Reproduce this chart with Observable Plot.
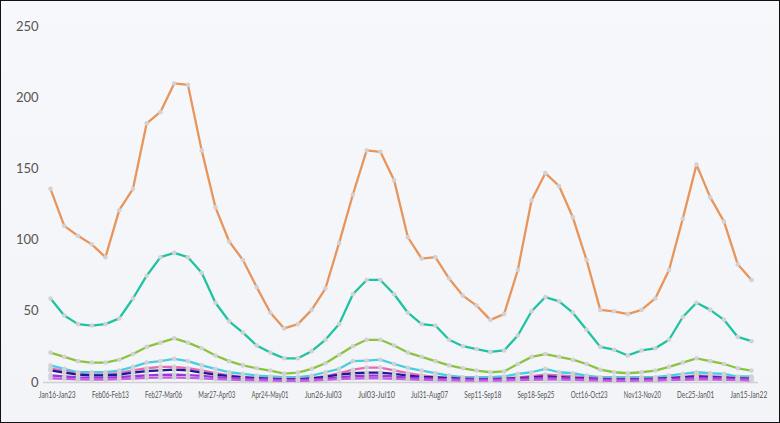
<!DOCTYPE html>
<html>
<head>
<meta charset="utf-8">
<script src="https://cdn.jsdelivr.net/npm/d3@7"></script>
<script src="https://cdn.jsdelivr.net/npm/@observablehq/plot@0.6"></script>
<style>
  html, body { margin: 0; padding: 0; }
  body { width: 780px; height: 423px; overflow: hidden; }
  #wrap { box-sizing: border-box; width: 780px; height: 423px; border: 1px solid #111;
          background: linear-gradient(180deg, #f7f8fb 0%, #f3f4f8 100%); }
  svg { display: block; }
</style>
</head>
<body>
<div id="wrap"></div>
<script>
// Tick labels shown on the x axis (every ~4th week)
const tickLabels = ["Jan16-Jan23","Feb06-Feb13","Feb27-Mar06","Mar27-Apr03","Apr24-May01","Jun26-Jul03","Jul03-Jul10","Jul31-Aug07","Sep11-Sep18","Sep18-Sep25","Oct16-Oct23","Nov13-Nov20","Dec25-Jan01","Jan15-Jan22"];

// Series values, 52 weekly points each
const seriesA = [136,110,103,97,88,121,136,182,190,210,209,163,123,99,86,67,49,38,41,51,66,98,132,163,162,142,102,87,88,73,61,54,44,48,79,128,147,138,116,86,51,50,48,51,59,79,115,153,130,113,83,72];
const seriesB = [59,47,41,40,41,45,59,75,88,91,88,77,56,43,35,26,21,17,17,22,30,41,62,72,72,62,49,41,40,30,25.5,23.5,21.5,22.5,33,50,60,57,49,37,25,23,19,22.5,24,30,46,56,51,44,32,29];
const seriesC = [21,18,15,14,14,16,20,25,28,31,28,24,19,15,12,10,8.4,6.3,7,9.6,13.5,19.5,25.5,30,30,26,21,18,15,12,10,8.4,7.2,7.8,13,18,20,18,16,13,9,7.2,6.5,7.2,8.4,11,14,17,15,13,10,8.4];
const seriesD = [12,9.6,7.2,7.2,7.2,8.4,11,14,15,16.6,15,12,9.6,7.2,6.1,4.9,4.2,3.7,3.7,4.9,7.2,9.6,15,15.4,16,13,10.3,8.4,6.5,4.9,3.7,3.7,3.7,4.2,6.1,7.2,9.6,7.2,6.5,4.9,3.7,3.7,3.7,3.7,3.7,4.9,6.1,7.2,6.5,6.1,4.2,4.2];
const seriesE = [10,8,6,5.5,5.5,6.5,8.5,10,11,11,10,8.5,6.5,5,4,3.2,2.8,2.5,2.5,3,4.5,6.5,9,10.5,10.5,8.5,6.5,5,4,3.2,2.8,2.6,2.6,2.8,3.5,4.5,5.5,5,4.2,3.5,2.8,2.6,2.5,2.6,2.8,3.2,4,5,4.5,4,3.2,3];
const seriesF = [8.5,7,5.5,5,5,5.5,7,8,8.5,9,8.5,7,5.5,4.5,3.5,3,2.5,2.2,2.2,2.8,4,5.5,6.5,7,7,6,4.8,4,3.5,3,2.6,2.4,2.4,2.6,3,3.6,4.2,3.8,3.3,2.8,2.4,2.2,2.2,2.4,2.6,3,3.6,4.2,3.8,3.4,2.8,2.6];
const seriesG = [5,4.2,3.6,3.4,3.4,3.8,4.4,5,5.4,5.6,5.2,4.6,3.8,3.2,2.8,2.4,2.1,1.9,1.9,2.2,2.8,3.6,4.4,4.8,4.8,4.2,3.4,3,2.7,2.4,2.2,2.1,2.1,2.2,2.6,3,3.4,3.1,2.8,2.4,2.1,2,2,2.1,2.3,2.6,3,3.4,3.2,2.9,2.5,2.3];
const seriesH = [3,2.6,2.2,2,2,2.3,2.8,3.2,3.4,3.5,3.3,2.9,2.4,2,1.7,1.5,1.3,1.2,1.2,1.4,1.8,2.3,2.8,3,3,2.6,2.2,1.9,1.7,1.5,1.4,1.3,1.3,1.4,1.6,1.9,2.1,2,1.8,1.5,1.3,1.2,1.2,1.3,1.4,1.6,1.9,2.1,2,1.8,1.6,1.4];

const seriesNames = ["A","B","C","D","E","F","G","H"];
const seriesColors = ["#e8955b","#1fc3a1","#8bc43f","#45cfe0","#e46bb4","#1d1a8f","#9a36dc","#c35fe0"];
const allSeries = [seriesA,seriesB,seriesC,seriesD,seriesE,seriesF,seriesG,seriesH];

const rows = [];
allSeries.forEach((vals, s) => vals.forEach((v, i) => rows.push({series: seriesNames[s], i, v})));

// positions of the 14 axis labels along the 52-point index scale
const tickPos = tickLabels.map((_, k) => 0.49 + k * (50.31 / 13));

const chart = Plot.plot({
  width: 778,
  height: 421,
  marginTop: 25,
  marginBottom: 40,
  marginLeft: 49,
  marginRight: 28,
  style: {background: "transparent", fontFamily: "Lato, 'Open Sans', sans-serif"},
  x: {type: "linear", domain: [0, 51], axis: null},
  y: {domain: [0, 250], axis: null},
  color: {domain: seriesNames, range: seriesColors},
  marks: [
    Plot.ruleY([0], {stroke: "#cfcfd4", strokeWidth: 1.5, insetLeft: -7, insetRight: -7}),
    Plot.axisY({ticks: [0,50,100,150,200,250], label: null, tickSize: 0, tickPadding: 12, fontSize: 13, fill: "#555", stroke: null}),
    Plot.axisX({ticks: tickPos, label: null, tickSize: 0, tickPadding: 9, fontSize: 9, fill: "#555",
      tickFormat: (d) => tickLabels[tickPos.indexOf(d)],
      render: (index, scales, values, dimensions, context, next) => {
        const g = next(index, scales, values, dimensions, context);
        g.querySelectorAll("text").forEach((t) => {
          t.setAttribute("textLength", 37);
          t.setAttribute("lengthAdjust", "spacingAndGlyphs");
        });
        return g;
      }}),
    Plot.line(rows, {x: "i", y: "v", z: "series", stroke: "series", strokeWidth: 2.3, curve: "linear"}),
    Plot.dot(rows, {x: "i", y: "v", r: 2.3, fill: "#d2d2d6", stroke: null})
  ]
});
document.getElementById("wrap").appendChild(chart);
</script>
</body>
</html>
